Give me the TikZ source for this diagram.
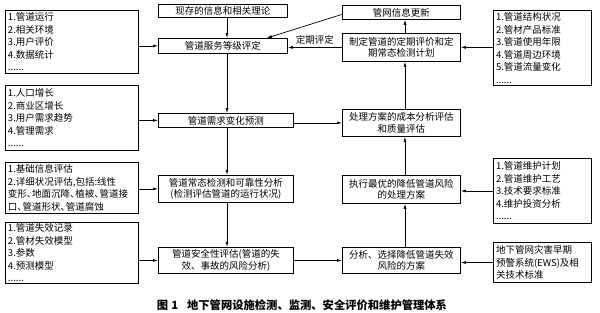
\documentclass[tikz,border=0pt]{standalone}
\usepackage{fontspec}
\setmainfont{Noto Sans CJK SC}
\usetikzlibrary{arrows.meta}
\newcommand\hdun{\makebox[0.55em][l]{、}}
\tikzset{
  box/.style={draw, line width=0.8pt, inner sep=1.5pt, font=\fontsize{9.5}{11.5}\selectfont, align=center, anchor=north west},
  lst/.style={draw, line width=1pt, inner xsep=2.5pt, inner ysep=0pt, font=\fontsize{9.5}{12.5}\selectfont, align=left, anchor=north west},
  arr/.style={-{Latex[length=5pt,width=3pt]}, line width=0.7pt},
  lbl/.style={font=\fontsize{9.5}{11.5}\selectfont, inner sep=1pt},
}
\begin{document}
\begin{tikzpicture}[x=1pt,y=-1pt]
\useasboundingbox[fill=white] (0,0) rectangle (600,313);
% left lists
\node[lst, minimum width=133pt, minimum height=63pt, text width=128pt] (L1) at (5,10) {1.管道运行\\2.相关环境\\3.用户评价\\4.数据统计\\......};
\node[lst, minimum width=133pt, minimum height=65pt, text width=128pt] (L2) at (5,85) {1.人口增长\\2.商业区增长\\3.用户需求趋势\\4.管理需求\\......};
\node[lst, minimum width=133pt, minimum height=51pt, text width=128pt] (L3) at (5,162) {1.基础信息评估\\2.详细状况评估,包括:线性\\变形\hdun 地面沉降\hdun 植被\hdun 管道接\\口\hdun 管道形状\hdun 管道腐蚀};
\node[lst, minimum width=133pt, minimum height=61pt, text width=128pt] (L4) at (5,222) {1.管道失效记录\\2.管材失效模型\\3.参数\\4.预测模型\\......};
% centre column
\node[box, minimum width=129pt, minimum height=13pt] (T0) at (158,4) {现存的信息和相关理论};
\node[box, minimum width=129pt, minimum height=15pt] (S1) at (158,38) {管道服务等级评定};
\node[box, minimum width=135pt, minimum height=14pt] (S2) at (158,113) {管道需求变化预测};
\node[box, minimum width=135pt, minimum height=27pt] (S3) at (158,175) {管道常态检测和可靠性分析\\(检测评估管道的运行状况)};
\node[box, minimum width=135pt, minimum height=26pt] (S4) at (158,247) {管道安全性评估(管道的失\\效、事故的风险分析)};
% right-centre column
\node[box, minimum width=118pt, minimum height=14pt] (N0) at (342,5) {管网信息更新};
\node[box, minimum width=118pt, minimum height=28pt] (N1) at (342,33) {制定管道的定期评价和定\\期常态检测计划};
\node[box, minimum width=118pt, minimum height=27pt] (N2) at (342,109) {处理方案的成本分析评估\\和质量评估};
\node[box, minimum width=118pt, minimum height=28pt] (N3) at (342,175) {执行最优的降低管道风险\\的处理方案};
\node[box, minimum width=118pt, minimum height=26pt] (N4) at (342,247) {分析、选择降低管道失效\\风险的方案};
% right lists
\node[lst, minimum width=98pt, minimum height=75pt, text width=93pt] (R1) at (493,10) {1.管道结构状况\\2.管材产品标准\\3.管道使用年限\\4.管道周边环境\\5.管道流量变化\\......};
\node[lst, minimum width=98pt, minimum height=65pt, text width=93pt] (R2) at (493,158) {1.管道维护计划\\2.管道维护工艺\\3.技术要求标准\\4.维护投资分析\\......};
\node[lst, minimum width=98pt, minimum height=40pt, text width=93pt] (R3) at (493,242) {地下管网灾害早期\\预警系统(EWS)及相\\关技术标准};
% coordinates of vertical lines
\coordinate (vx) at (227,0);
\coordinate (wx) at (405,0);
% left arrows
\draw[arr] (L1.east |- S1) -- (S1.west);
\draw[arr] (L2.east |- S2) -- (S2.west);
\draw[arr] (L3.east |- S3) -- (S3.west);
\draw[arr] (L4.east |- S4) -- (S4.west);
% centre vertical
\draw[arr] (vx |- T0.south) -- (vx |- S1.north);
\draw[arr] (vx |- S1.south) -- (vx |- S2.north);
\draw[arr] (vx |- S2.south) -- (vx |- S3.north);
\draw[arr] (vx |- S3.south) -- (vx |- S4.north);
% right-centre vertical
\draw[arr] (wx |- N4.north) -- (wx |- N3.south);
\draw[arr] (wx |- N3.north) -- (wx |- N2.south);
\draw[arr] (wx |- N2.north) -- (wx |- N1.south);
\draw[arr] (wx |- N1.north) -- (wx |- N0.south);
% cross arrows
\draw[arr] (S2.east |- N2) -- (N2.west);
\draw[arr] (S4.east) -- (S4.east -| N4.west);
\draw[arr] (N1.west) -- node[lbl, above=2pt] (lab) {定期评定} (N1.west -| S1.east);
\draw[arr] ([yshift=-2pt]N0.west) -- ([xshift=44pt]S1.north);
% right arrows
\draw[arr] (R1.west |- N1) -- (N1.east);
\draw[arr] (R2.west) -- (R2.west -| N3.east);
\draw[arr] (R3.west) -- (R3.west -| N4.east);
% caption
\node[font=\fontsize{11.3}{13}\selectfont\bfseries, inner sep=0pt] (cap) at (302,305) {图\hspace{3pt}1\hspace{9pt}地下管网设施检测、监测、安全评价和维护管理体系};
\end{tikzpicture}
\end{document}
